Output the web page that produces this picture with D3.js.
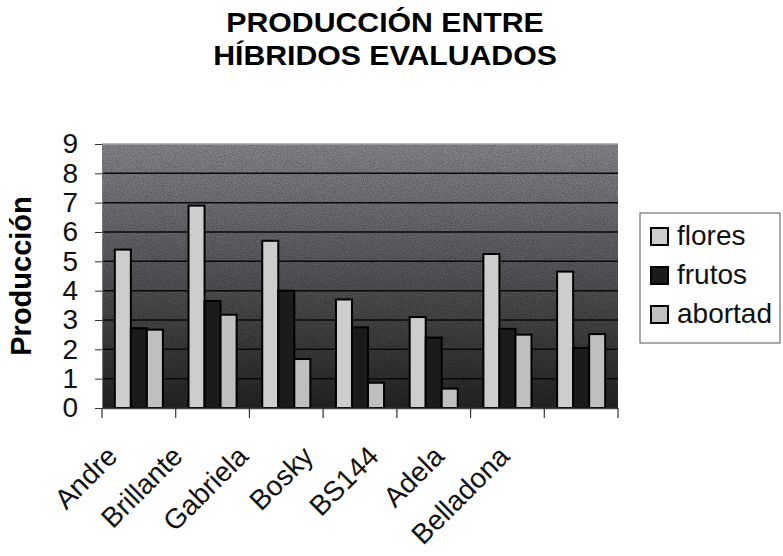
<!DOCTYPE html>
<html>
<head>
<meta charset="utf-8">
<script src="https://cdn.jsdelivr.net/npm/d3@7"></script>
<style>
  body { margin: 0; background: #fff; }
  svg { font-family: "Liberation Sans", Arial, sans-serif; }
</style>
</head>
<body>
<svg id="chart" width="783" height="556"></svg>
<script>
// data
let hybrids = ["Andre", "Brillante", "Gabriela", "Bosky", "BS144", "Adela", "Belladona"];
let flores = [5.4, 6.9, 5.7, 3.7, 3.1, 5.25, 4.65];
let frutos = [2.72, 3.65, 4.0, 2.75, 2.4, 2.7, 2.05];
let abortad = [2.67, 3.18, 1.67, 0.86, 0.66, 2.5, 2.52];
let seriesNames = ["flores", "frutos", "abortad"];
let yTicks = [0, 1, 2, 3, 4, 5, 6, 7, 8, 9];

let colors = { flores: "#cdcdcd", frutos: "#1b1b1b", abortad: "#bfbfbf" };

let svg = d3.select("#chart");
let defs = svg.append("defs");

// background gradient of the plot area
let grad = defs.append("linearGradient")
  .attr("id", "bg")
  .attr("x1", 0).attr("y1", 0).attr("x2", 0).attr("y2", 1);
grad.append("stop").attr("offset", "0%").attr("stop-color", "#8a8a90");
grad.append("stop").attr("offset", "45%").attr("stop-color", "#5c5c60");
grad.append("stop").attr("offset", "100%").attr("stop-color", "#242424");

// speckle
let noise = defs.append("filter").attr("id", "speckle");
noise.append("feTurbulence")
  .attr("type", "fractalNoise").attr("baseFrequency", 0.9).attr("numOctaves", 2).attr("seed", 3)
  .attr("result", "n");
noise.append("feColorMatrix").attr("in", "n").attr("type", "matrix")
  .attr("values", "0 0 0 0 0  0 0 0 0 0  0 0 0 0 0  0 0 0 -1.6 1.1")
  .attr("result", "m");
noise.append("feComposite").attr("in", "m").attr("in2", "SourceGraphic").attr("operator", "in");

let plotLeft = 102, plotRight = 618, plotTop = 144, plotBottom = 408;

let x = d3.scaleBand().domain(hybrids).range([plotLeft, plotRight]).paddingInner(0).paddingOuter(0);
let y = d3.scaleLinear().domain([0, 9]).range([plotBottom, plotTop]);
let xSub = d3.scaleBand().domain(seriesNames)
  .range([0, x.bandwidth()]).paddingInner(0).paddingOuter(0.8);
// the category labels sit a little tighter than the bands
let xLabel = d3.scalePoint().domain(hybrids).range([119, 511]);

// title
let title = svg.append("g").attr("transform", "translate(385,0) scale(1.08,1)");
title.append("text")
  .attr("x", 0).attr("y", 32)
  .attr("text-anchor", "middle")
  .style("font-size", "28px").style("font-weight", "bold")
  .text("PRODUCCIÓN ENTRE");
title.append("text")
  .attr("x", 0).attr("y", 65)
  .attr("text-anchor", "middle")
  .style("font-size", "28px").style("font-weight", "bold")
  .text("HÍBRIDOS EVALUADOS");

// plot background
svg.append("rect")
  .attr("x", plotLeft).attr("y", plotTop)
  .attr("width", plotRight - plotLeft).attr("height", plotBottom - plotTop)
  .attr("fill", "url(#bg)");
svg.append("rect")
  .attr("x", plotLeft).attr("y", plotTop)
  .attr("width", plotRight - plotLeft).attr("height", plotBottom - plotTop)
  .attr("fill", "#000").attr("opacity", 0.35)
  .attr("filter", "url(#speckle)");

// gridlines
svg.append("g")
  .selectAll("line")
  .data(yTicks.slice(1))
  .enter()
  .append("line")
  .attr("x1", plotLeft).attr("x2", plotRight)
  .attr("y1", d => y(d)).attr("y2", d => y(d))
  .attr("stroke", d => d === 9 ? "#a0a0a0" : "#0a0a0a")
  .attr("stroke-width", 1.5);

// bars
let rows = hybrids.map((h, i) => ({ name: h, flores: flores[i], frutos: frutos[i], abortad: abortad[i] }));

let groups = svg.append("g")
  .selectAll("g")
  .data(rows)
  .enter()
  .append("g")
  .attr("transform", d => "translate(" + x(d.name) + ",0)");

groups.selectAll("rect")
  .data(d => seriesNames.map(s => ({ key: s, value: d[s] })))
  .enter()
  .append("rect")
  .attr("x", d => xSub(d.key))
  .attr("y", d => y(d.value))
  .attr("width", xSub.bandwidth())
  .attr("height", d => plotBottom - y(d.value))
  .attr("fill", d => colors[d.key])
  .attr("stroke", "#000")
  .attr("stroke-width", 2);

// y axis
let yAxis = d3.axisLeft(y).tickValues(yTicks).tickSize(7).tickPadding(17);
let yg = svg.append("g")
  .attr("transform", "translate(" + plotLeft + ",0)")
  .call(yAxis);
yg.select(".domain").attr("stroke", "#777").attr("stroke-width", 1);
yg.selectAll(".tick line").attr("stroke", "#333");
yg.selectAll("text")
  .style("font-size", "28px")
  .style("font-family", "'Liberation Sans', Arial, sans-serif")
  .attr("fill", "#111");

// x axis
let xAxis = d3.axisBottom(x).tickSize(0).tickFormat("");
let xg = svg.append("g")
  .attr("transform", "translate(0," + plotBottom + ")")
  .call(xAxis);
xg.select(".domain").attr("stroke", "#444").attr("stroke-width", 1.5);

// category boundary ticks
let bounds = hybrids.map(h => x(h)).concat([plotRight]);
svg.append("g")
  .selectAll("line")
  .data(bounds)
  .enter()
  .append("line")
  .attr("x1", d => d).attr("x2", d => d)
  .attr("y1", plotBottom).attr("y2", plotBottom + 10)
  .attr("stroke", "#333").attr("stroke-width", 1.2);

// rotated category labels
svg.append("g")
  .selectAll("text")
  .data(hybrids)
  .enter()
  .append("text")
  .attr("transform", d => "translate(" + xLabel(d) + "," + (plotBottom + 50) + ") rotate(-45)")
  .attr("text-anchor", "end")
  .style("font-size", "28px")
  .attr("fill", "#111")
  .text(d => d);

// y title
svg.append("text")
  .attr("transform", "translate(31," + ((plotTop + plotBottom) / 2) + ") rotate(-90)")
  .attr("text-anchor", "middle")
  .style("font-size", "29px").style("font-weight", "bold")
  .text("Producción");

// legend
let legend = svg.append("g");
legend.append("rect")
  .attr("x", 640).attr("y", 213).attr("width", 140).attr("height", 130)
  .attr("fill", "#fff").attr("stroke", "#555").attr("stroke-width", 1);

let items = legend.selectAll("g.item")
  .data(seriesNames)
  .enter()
  .append("g")
  .attr("class", "item")
  .attr("transform", (d, i) => "translate(651," + (228 + i * 39) + ")");
items.append("rect")
  .attr("width", 17).attr("height", 17)
  .attr("fill", d => colors[d])
  .attr("stroke", "#000").attr("stroke-width", 2);
items.append("text")
  .attr("x", 26).attr("y", 17)
  .style("font-size", "28px")
  .attr("fill", "#111")
  .text(d => d);
</script>
</body>
</html>
